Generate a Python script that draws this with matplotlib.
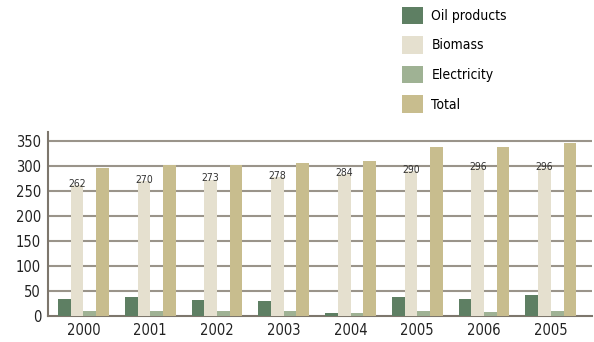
import matplotlib.pyplot as plt
import numpy as np

# dados
years = ['2000', '2001', '2002', '2003', '2004', '2005', '2006', '2005']
oil = [34, 38, 32, 30, 7, 38, 34, 42]
biomass = [262, 270, 273, 278, 284, 290, 296, 296]
electricity = [10, 10, 10, 10, 7, 10, 8, 10]
total = [296, 302, 302, 306, 310, 338, 338, 346]

series = [('Oil products', oil, '#5e7f63'),
          ('Biomass', biomass, '#e5e0cf'),
          ('Electricity', electricity, '#9fb294'),
          ('Total', total, '#c8bd8e')]

plt.rcParams['font.family'] = ['DejaVu Sans']
plt.rcParams['font.stretch'] = 'condensed'

fig = plt.figure(figsize=(5.94, 3.42), dpi=100)
ax = fig.add_axes([0.081, 0.076, 0.916, 0.538])

x = np.arange(len(years))
w = 0.19
handles = []
for i, (name, vals, col) in enumerate(series):
    b = ax.bar(x + (i - 1.5) * w, vals, w, color=col, label=name, zorder=3)
    handles.append(b)

# rótulos sobre as barras de biomassa
for xi, v in zip(x, biomass):
    ax.text(xi - 0.5 * w, v + 3, str(v), ha='center', va='center', fontsize=7.5,
            color='#333333', zorder=4)

grid_col = '#9a948a'
ax.set_ylim(0, 368)
ax.set_xlim(-0.53, 7.62)
ax.set_yticks(range(0, 351, 50))
ax.set_xticks(x)
ax.set_xticklabels(years)
for yv in range(50, 351, 50):
    ax.axhline(yv, color=grid_col, lw=1.5, zorder=1)
for s in ['top', 'right']:
    ax.spines[s].set_visible(False)
ax.spines['left'].set_color('#7d766c')
ax.spines['bottom'].set_color('#7d766c')
ax.spines['left'].set_linewidth(1.5)
ax.spines['bottom'].set_linewidth(1.5)
ax.tick_params(length=0, labelsize=10.5, colors='#222222', pad=5)

fig.legend(handles=handles, loc='upper left', bbox_to_anchor=(396 / 594, 1 - 1 / 342),
           frameon=False, fontsize=10, handlelength=1.55, handleheight=1.55,
           labelspacing=0.88, handletextpad=0.6, borderaxespad=0)

fig.savefig('out.png', dpi=100)
